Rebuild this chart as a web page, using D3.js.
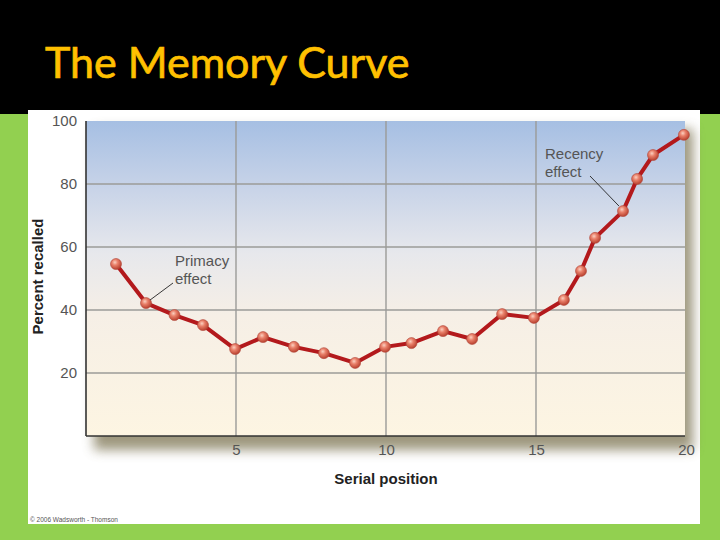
<!DOCTYPE html>
<html>
<head>
<meta charset="utf-8">
<script src="https://cdn.jsdelivr.net/npm/d3@7"></script>
<style>
  html, body { margin: 0; padding: 0; background: #92d050; }
  svg { display: block; }
</style>
</head>
<body>
<svg id="chart" width="720" height="540"></svg>
<script>
// serial position (x) and percent recalled (y)
const serialPos = [1, 2, 2.95, 3.9, 4.97, 5.9, 6.93, 7.93, 8.97, 9.97, 10.85, 11.9,
                   12.87, 13.87, 14.93, 15.93, 16.5, 16.97, 17.9, 18.37, 18.9, 19.93];
const recalled  = [54.6, 42.2, 38.4, 35.2, 27.6, 31.4, 28.3, 26.3, 23.2, 28.3, 29.5, 33.3,
                   30.8, 38.7, 37.5, 43.2, 52.4, 62.9, 71.4, 81.6, 89.2, 95.6];
const xTicks = [5, 10, 15, 20];
const yTicks = [20, 40, 60, 80, 100];

const data = serialPos.map((x, i) => ({ x: x, y: recalled[i] }));

const svg = d3.select('#chart');
const W = 720, H = 540;
const plot = { l: 86, r: 685, t: 121, b: 436 };

let x = d3.scaleLinear().domain([0, 20]).range([plot.l, plot.l + 600]);
let y = d3.scaleLinear().domain([0, 100]).range([plot.b, plot.t]);

const defs = svg.append('defs');

let bg = defs.append('linearGradient').attr('id', 'bgGrad')
    .attr('x1', 0).attr('y1', 0).attr('x2', 0).attr('y2', 1);
bg.append('stop').attr('offset', '0%').attr('stop-color', '#a6bfe3');
bg.append('stop').attr('offset', '22%').attr('stop-color', '#c9d4e8');
bg.append('stop').attr('offset', '42%').attr('stop-color', '#e7e8ec');
bg.append('stop').attr('offset', '62%').attr('stop-color', '#f6efe6');
bg.append('stop').attr('offset', '100%').attr('stop-color', '#fdf5e2');

let ball = defs.append('radialGradient').attr('id', 'ballGrad')
    .attr('cx', '40%').attr('cy', '35%').attr('r', '65%');
ball.append('stop').attr('offset', '0%').attr('stop-color', '#fbd0c0');
ball.append('stop').attr('offset', '40%').attr('stop-color', '#e9806a');
ball.append('stop').attr('offset', '100%').attr('stop-color', '#b8402e');

defs.append('filter').attr('id', 'blur')
    .attr('x', '-10%').attr('y', '-10%').attr('width', '120%').attr('height', '130%')
  .append('feGaussianBlur').attr('stdDeviation', 6);

// slide background
svg.append('rect').attr('width', W).attr('height', H).attr('fill', '#92d050');
svg.append('rect').attr('width', W).attr('height', 114).attr('fill', '#000');
svg.append('rect').attr('x', 28).attr('y', 110).attr('width', 672).attr('height', 414).attr('fill', '#fff');

svg.append('text')
    .attr('x', 45).attr('y', 78)
    .attr('font-family', 'Lato, "Open Sans", sans-serif')
    .attr('font-size', 43)
    .attr('fill', '#ffc000')
    .attr('stroke', '#ffc000').attr('stroke-width', 0.7)
    .text('The Memory Curve');

// soft shadow behind the plot panel
svg.append('rect')
    .attr('x', plot.l + 8).attr('y', plot.t + 8)
    .attr('width', plot.r - plot.l).attr('height', plot.b - plot.t + 6)
    .attr('fill', '#7d7552').attr('opacity', 0.75)
    .attr('filter', 'url(#blur)');

svg.append('rect')
    .attr('x', plot.l).attr('y', plot.t)
    .attr('width', plot.r - plot.l).attr('height', plot.b - plot.t)
    .attr('fill', 'url(#bgGrad)');

// gridlines
let grid = svg.append('g').attr('stroke', '#9b9b98').attr('stroke-width', 1.4);
grid.selectAll('.hg').data(yTicks.filter(d => d < 100)).join('line')
    .attr('x1', plot.l).attr('x2', plot.r)
    .attr('y1', d => y(d)).attr('y2', d => y(d));
grid.selectAll('.vg').data(xTicks.filter(d => d < 20)).join('line')
    .attr('y1', plot.t).attr('y2', plot.b)
    .attr('x1', d => x(d)).attr('x2', d => x(d));

// axes
let yAxis = svg.append('g').attr('transform', `translate(${plot.l},0)`)
    .call(d3.axisLeft(y).tickValues(yTicks).tickSize(0).tickPadding(9));
let xAxis = svg.append('g').attr('transform', `translate(0,${plot.b})`)
    .call(d3.axisBottom(x).tickValues(xTicks).tickSize(0).tickPadding(8));
[yAxis, xAxis].forEach(a => {
    a.select('.domain').attr('stroke', '#333').attr('stroke-width', 1.6);
    a.selectAll('.tick text')
        .attr('font-family', '"Liberation Sans", Arial, sans-serif')
        .attr('font-size', 15).attr('fill', '#555');
});
xAxis.select('.domain').attr('d', `M${plot.l},0H${plot.r}`);
yAxis.select('.domain').attr('d', `M0,${plot.t}V${plot.b}`);

svg.append('text')
    .attr('x', x(10)).attr('y', 484)
    .attr('text-anchor', 'middle')
    .attr('font-family', '"Liberation Sans", Arial, sans-serif')
    .attr('font-weight', 'bold').attr('font-size', 15).attr('fill', '#222')
    .text('Serial position');

svg.append('text')
    .attr('transform', `translate(43,${(plot.t + plot.b) / 2 - 2}) rotate(-90)`)
    .attr('text-anchor', 'middle')
    .attr('font-family', '"Liberation Sans", Arial, sans-serif')
    .attr('font-weight', 'bold').attr('font-size', 15).attr('fill', '#222')
    .text('Percent recalled');

// data line + markers
let line = d3.line().x(d => x(d.x)).y(d => y(d.y));
svg.append('path').datum(data)
    .attr('d', line)
    .attr('fill', 'none').attr('stroke', '#b3191c')
    .attr('stroke-width', 4).attr('stroke-linejoin', 'round');
svg.selectAll('.pt').data(data).join('circle')
    .attr('cx', d => x(d.x)).attr('cy', d => y(d.y))
    .attr('r', 5.5)
    .attr('fill', 'url(#ballGrad)')
    .attr('stroke', '#b0463a').attr('stroke-width', 0.6);

// annotations
let annFont = '"Liberation Sans", Arial, sans-serif';
function annotate(lines, tx, ty, from, to) {
    let t = svg.append('text')
        .attr('font-family', annFont).attr('font-size', 15).attr('fill', '#555');
    lines.forEach((s, i) => t.append('tspan').attr('x', tx).attr('y', ty + i * 18).text(s));
    svg.append('line')
        .attr('x1', from[0]).attr('y1', from[1])
        .attr('x2', to[0]).attr('y2', to[1])
        .attr('stroke', '#222').attr('stroke-width', 0.9);
}
annotate(['Primacy', 'effect'], 175, 266, [173, 283], [x(data[1].x) + 4, y(data[1].y) - 3]);
annotate(['Recency', 'effect'], 545, 159, [590, 176], [x(data[18].x) - 4, y(data[18].y) - 5]);

svg.append('text')
    .attr('x', 30).attr('y', 522)
    .attr('font-family', annFont).attr('font-size', 6.5).attr('fill', '#555')
    .text('© 2006 Wadsworth - Thomson');
</script>
</body>
</html>
